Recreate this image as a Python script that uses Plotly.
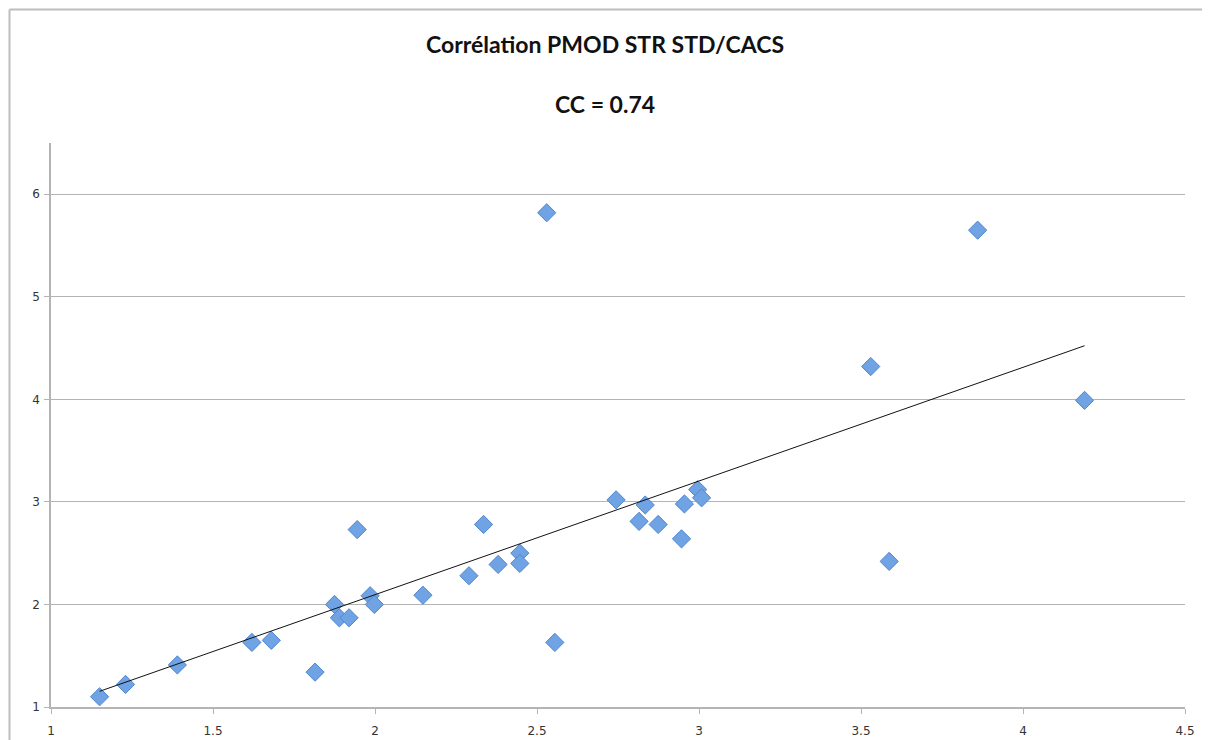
import numpy as np
import plotly.graph_objects as go

# Data
x_vals = [1.15, 1.23, 1.39, 1.62, 1.68, 1.815, 1.875, 1.89, 1.92, 1.945, 1.985, 1.998,
          2.148, 2.29, 2.335, 2.38, 2.447, 2.447, 2.53, 2.555, 2.744, 2.815, 2.834,
          2.874, 2.946, 2.955, 2.996, 3.008, 3.53, 3.587, 3.86, 4.19]
y_vals = [1.10, 1.22, 1.41, 1.63, 1.65, 1.34, 2.00, 1.87, 1.87, 2.73, 2.085, 2.00,
          2.09, 2.28, 2.78, 2.39, 2.50, 2.40, 5.82, 1.63, 3.02, 2.81, 2.97,
          2.78, 2.64, 2.98, 3.12, 3.04, 4.32, 2.42, 5.65, 3.99]

title_line1 = "Corrélation PMOD STR STD/CACS"
title_line2 = "CC = 0.74"

x_ticks = [1, 1.5, 2, 2.5, 3, 3.5, 4, 4.5]
x_tick_text = ["1", "1.5", "2", "2.5", "3", "3.5", "4", "4.5"]
y_ticks = [1, 2, 3, 4, 5, 6]

# Linear trend line (least squares)
slope, intercept = np.polyfit(x_vals, y_vals, 1)
tx = np.array([min(x_vals), max(x_vals)])
ty = slope * tx + intercept

fig = go.Figure()
fig.add_trace(go.Scatter(
    x=x_vals, y=y_vals, mode="markers",
    marker=dict(symbol="diamond", size=14, color="#6fa3e3",
                line=dict(color="#4f86cf", width=1)),
    showlegend=False, hoverinfo="x+y"))
fig.add_trace(go.Scatter(
    x=tx, y=ty, mode="lines", line=dict(color="#111111", width=1),
    showlegend=False, hoverinfo="skip"))

OFF = 8  # page body margin
W, H = 1210 - 2 * OFF, 740 - OFF
ml, mt = 51 - OFF, 143 - OFF
mr = W - (1185 - OFF)
mb = H - (707 - OFF)
pw, ph = W - ml - mr, H - mt - mb

def px_x(p):
    return (p - OFF - ml) / pw

def px_y(p):
    return (H - mb - (p - OFF)) / ph

fig.update_layout(
    width=W, height=H,
    margin=dict(l=ml, r=mr, t=mt, b=mb, autoexpand=False),
    paper_bgcolor="white", plot_bgcolor="white",
    showlegend=False,
    font=dict(family="DejaVu Sans", size=12, color="#333333"),
    xaxis=dict(range=[1, 4.5], tickvals=x_ticks, ticktext=x_tick_text,
               showgrid=False, zeroline=False, showline=True,
               linecolor="#b4b4b4", linewidth=1.5,
               ticks="outside", ticklen=5, tickcolor="#b4b4b4",
               ticklabelstandoff=7, automargin=False,
               tickfont=dict(size=12, color="#333333")),
    yaxis=dict(range=[1, 6.5], tickvals=y_ticks,
               showgrid=True, gridcolor="#b4b4b4", gridwidth=1.3,
               zeroline=False, showline=True,
               linecolor="#b4b4b4", linewidth=1.5,
               ticks="outside", ticklen=5, tickcolor="#b4b4b4",
               ticklabelstandoff=2, automargin=False,
               tickfont=dict(size=12, color="#333333")),
    annotations=[
        dict(text="<b>" + title_line1 + "</b>", xref="paper", yref="paper",
             x=px_x(605), y=px_y(44), xanchor="center", yanchor="middle",
             showarrow=False, font=dict(family="Lato", size=23, color="#111111")),
        dict(text="<b>" + title_line2 + "</b>", xref="paper", yref="paper",
             x=px_x(605), y=px_y(104), xanchor="center", yanchor="middle",
             showarrow=False, font=dict(family="Lato", size=23, color="#111111")),
    ],
    shapes=[
        dict(type="line", xref="paper", yref="paper",
             x0=px_x(9.5), x1=px_x(1215), y0=px_y(9.5), y1=px_y(9.5),
             line=dict(color="#bdbdbd", width=2)),
        dict(type="line", xref="paper", yref="paper",
             x0=px_x(9.5), x1=px_x(9.5), y0=px_y(9.5), y1=px_y(745),
             line=dict(color="#bdbdbd", width=2)),
    ],
)

fig.write_html("out.html")
